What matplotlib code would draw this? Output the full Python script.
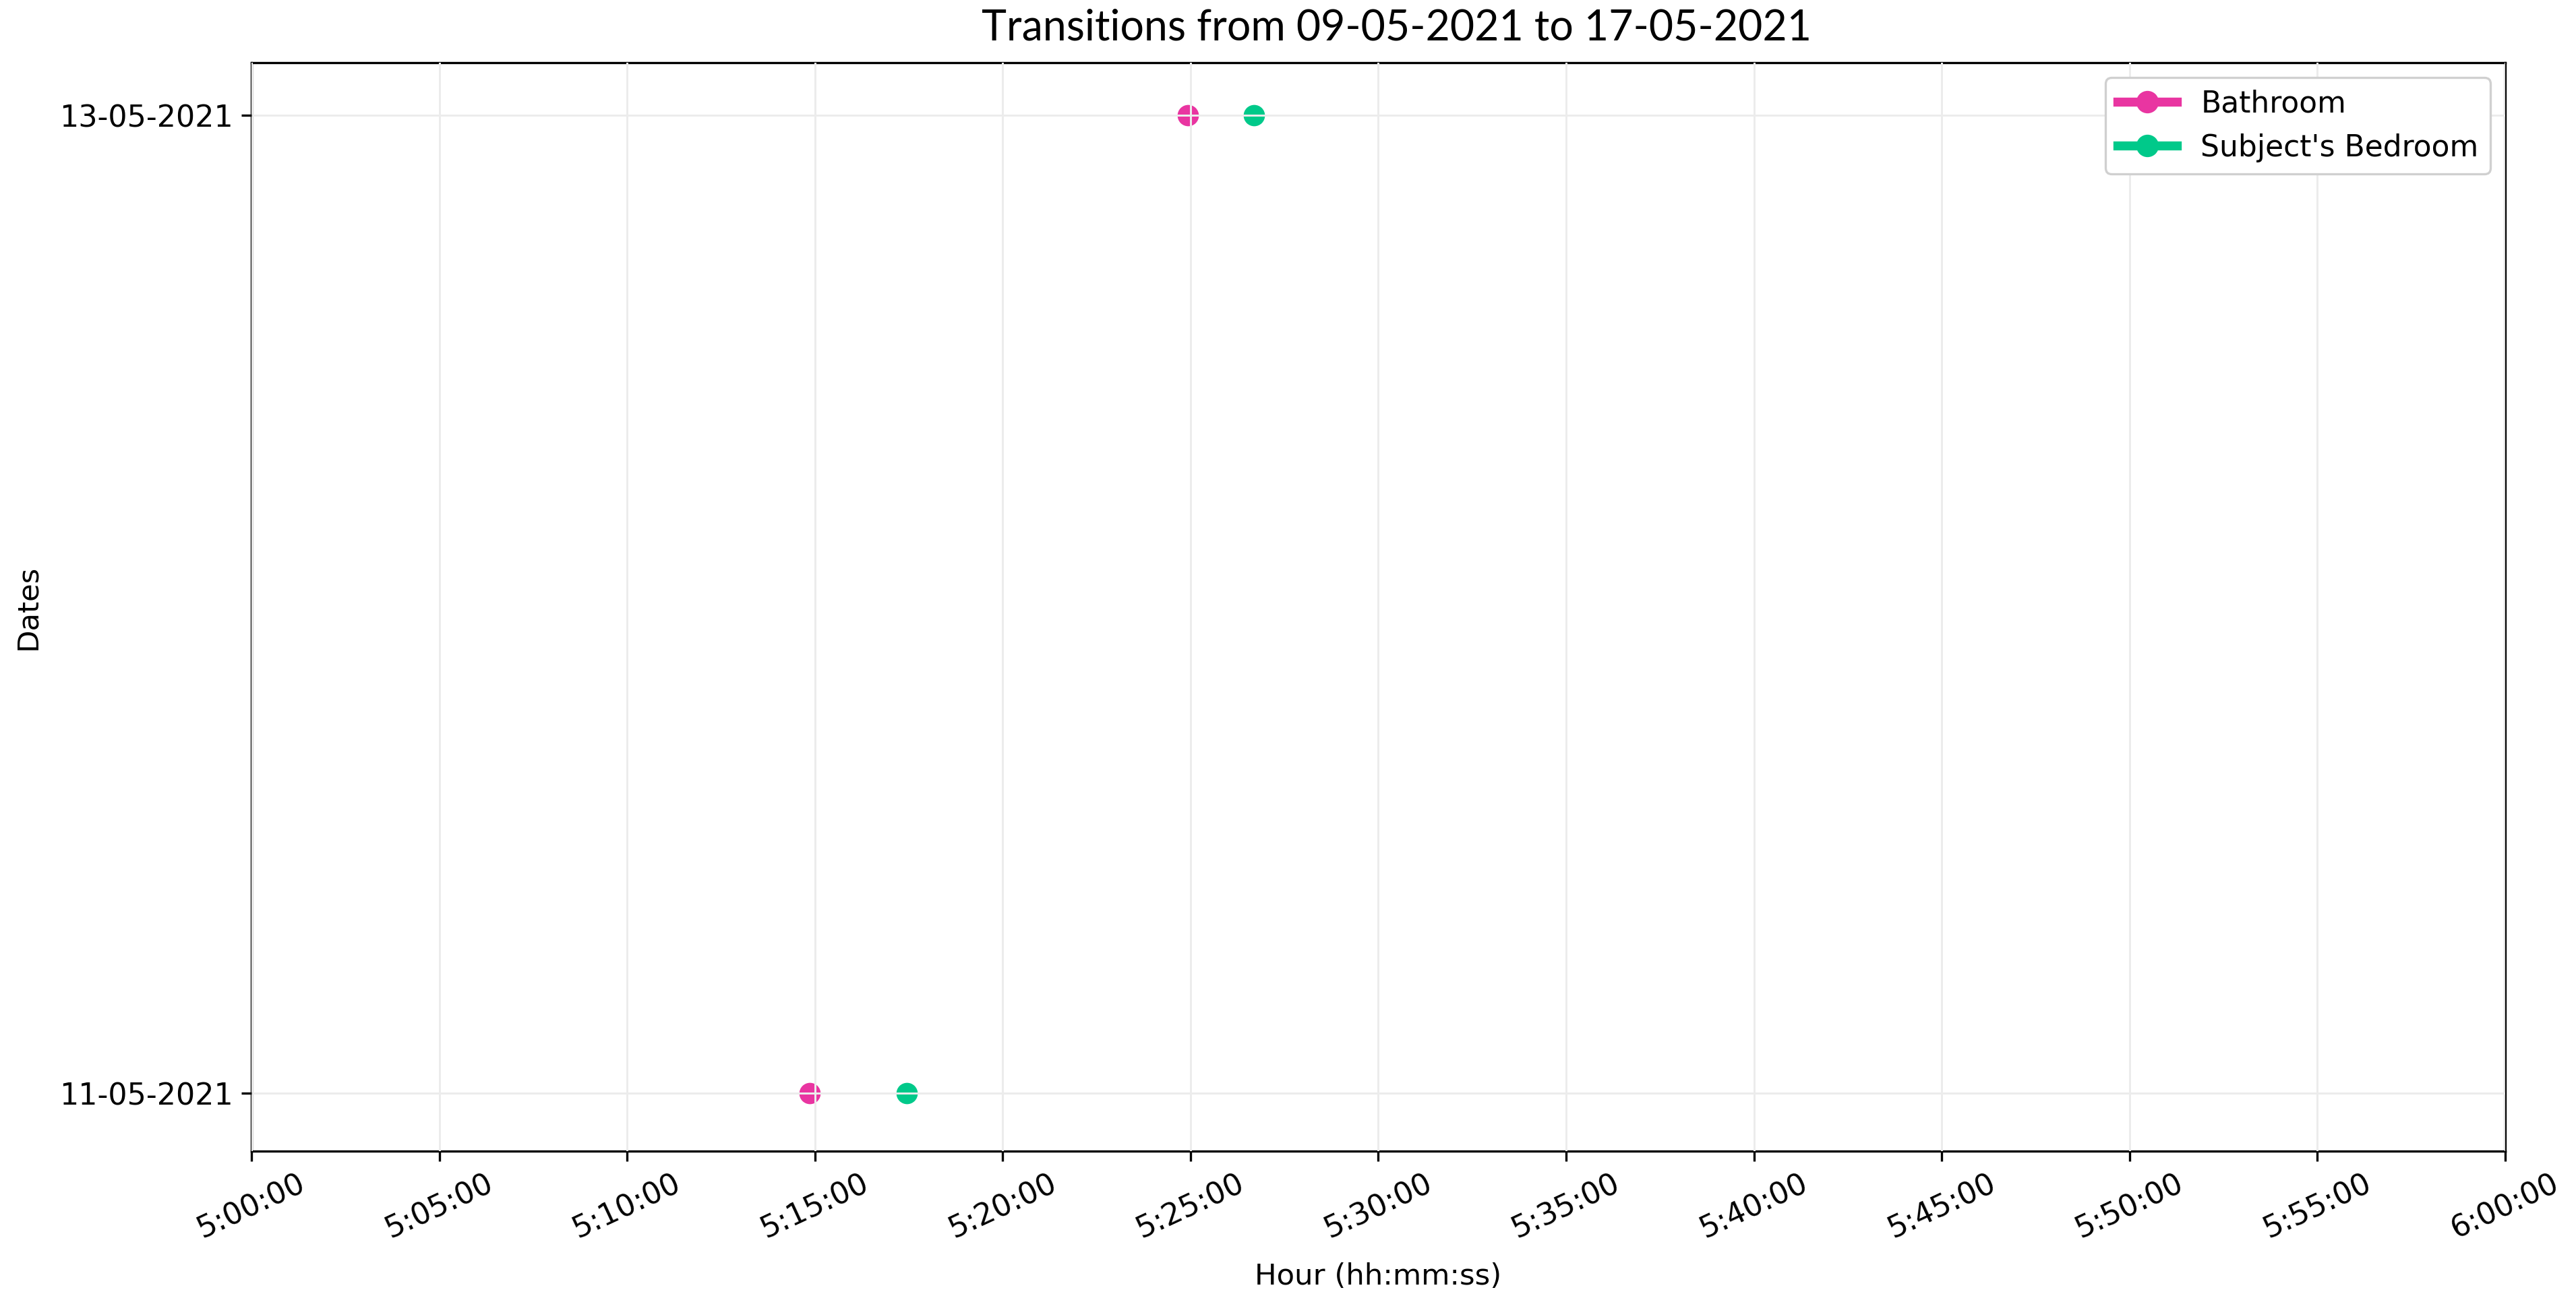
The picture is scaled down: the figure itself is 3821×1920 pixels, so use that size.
import matplotlib
matplotlib.use("Agg")
import matplotlib.pyplot as plt
import matplotlib.dates as mdates
from matplotlib.lines import Line2D
import datetime as dt

# ---- data ----
dates = ["11-05-2021", "13-05-2021"]
bathroom_dates = ["11-05-2021", "13-05-2021"]
bathroom_times = ["05:14:52", "05:24:56"]
bedroom_dates = ["11-05-2021", "13-05-2021"]
bedroom_times = ["05:17:27", "05:26:41"]
series_names = ["Bathroom", "Subject's Bedroom"]
series_colors = ["#e935a1", "#00c98a"]
title = "Transitions from 09-05-2021 to 17-05-2021"
x_start, x_end = "05:00:00", "06:00:00"

def to_t(s):
    return dt.datetime.strptime("2000-01-01 " + s, "%Y-%m-%d %H:%M:%S")

plt.rcParams['font.family'] = ['DejaVu Sans']
fig = plt.figure(figsize=(3821/240, 1920/240), dpi=240)
ax = fig.add_axes([373/3821, 1-1708/1920, (3716-373)/3821, (1708-93)/1920])

ypos = {d: i for i, d in enumerate(dates)}
for name, col, ds, ts in [(series_names[0], series_colors[0], bathroom_dates, bathroom_times),
                          (series_names[1], series_colors[1], bedroom_dates, bedroom_times)]:
    ax.plot([to_t(t) for t in ts], [ypos[d] for d in ds], 'o', color=col,
            markersize=9.5, markeredgewidth=0, zorder=2)

ax.set_xlim(to_t(x_start), to_t(x_end))
ax.xaxis.set_major_locator(mdates.MinuteLocator(byminute=range(0, 60, 5)))
ax.xaxis.set_major_formatter(plt.FuncFormatter(
    lambda v, p: (lambda d: f"{d.hour}:{d.minute:02d}:{d.second:02d}")(mdates.num2date(v))))
ax.set_yticks(range(len(dates)))
ax.set_yticklabels(dates)
ax.set_ylim(-0.059, 1.054)

ax.set_axisbelow(False)
ax.grid(True, color="#ececec", linewidth=0.9)
for s in ax.spines.values():
    s.set_linewidth(1.0)
ax.tick_params(axis='both', labelsize=13.3, length=4.5, width=1.0)
plt.setp(ax.get_xticklabels(), rotation=25, ha='center')

ax.set_xlabel("Hour (hh:mm:ss)", fontsize=13, labelpad=8)
ax.set_ylabel("Dates", fontsize=13, labelpad=8)
ax.set_title(title, fontsize=18.8, family=['Lato', 'DejaVu Sans'], pad=10, x=0.508)

handles = [Line2D([0], [0], color=c, lw=4, marker='o', markersize=10, markeredgewidth=0)
           for c in series_colors]
leg = ax.legend(handles, series_names, loc='upper right', fontsize=13.2,
                frameon=True, fancybox=True, edgecolor="#d0d0d0", framealpha=1,
                borderaxespad=0.5, handlelength=2.0)
leg.get_frame().set_linewidth(1.0)

fig.savefig("out.png", dpi=240)
